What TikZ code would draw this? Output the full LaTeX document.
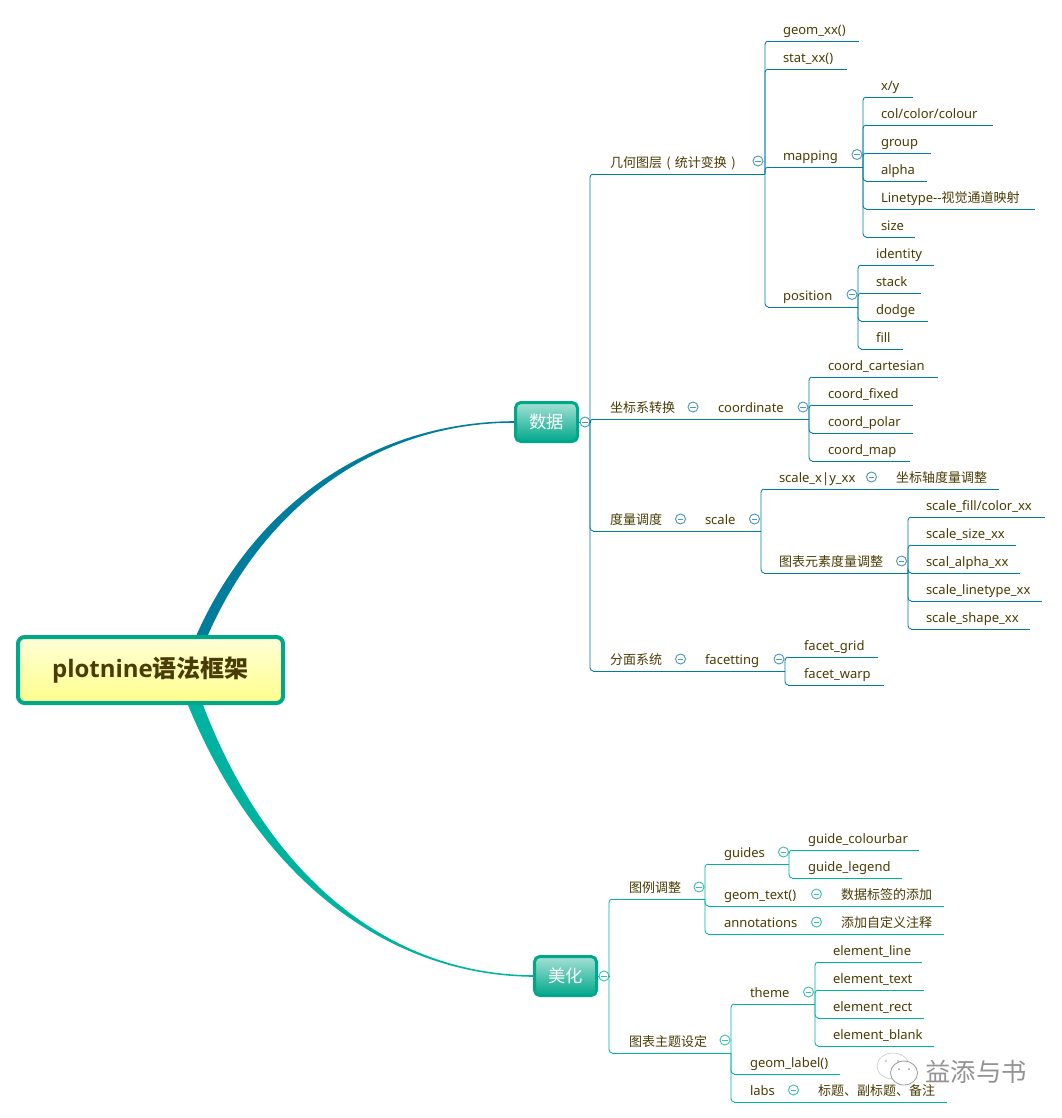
\documentclass[tikz,border=0pt]{standalone}
\usepackage{fontspec}
\setmainfont{Noto Sans}
\newfontfamily\cjk{Noto Sans CJK SC}
\newfontfamily\titlefont{Open Sans}
\newcommand{\zh}[1]{{\cjk #1}}
\newcommand{\wideparen}[1]{\makebox[9.75pt][c]{\cjk #1}}
\definecolor{tealblue}{HTML}{007D9C}
\definecolor{teallight}{HTML}{00B3A0}
\definecolor{markblue}{HTML}{4A9ABA}
\definecolor{marklight}{HTML}{3CBFB0}
\definecolor{boxgreen}{HTML}{00A88A}
\definecolor{inkbrown}{HTML}{4A3C05}
\colorlet{branch}{tealblue}
\colorlet{markc}{markblue}
\newlength{\topicw}
\newlength{\topicx}
\tikzset{
  topicbox/.style={anchor=south west,inner sep=0pt,outer sep=0pt,text=inkbrown,font=\fontsize{9.75pt}{12pt}\selectfont},
  branchline/.style={draw=branch,line width=0.65pt},
  spine/.style={branchline,rounded corners=2.5pt},
  collapse/.style={circle,draw=markc,fill=white,line width=0.7pt,minimum size=7.5pt,inner sep=0pt,
    path picture={\draw[markc,line width=0.6pt]
      ([xshift=1.6pt]path picture bounding box.west) -- ([xshift=-1.6pt]path picture bounding box.east);}},
  mainbox/.style={rectangle,rounded corners=4pt,draw=boxgreen,line width=2.25pt,
    top color=boxgreen!35!white,bottom color=boxgreen,text=white,
    minimum width=46.5pt,minimum height=29.25pt,inner sep=0pt,
    font=\fontsize{13pt}{15pt}\selectfont},
  rootbox/.style={rectangle,rounded corners=5pt,draw=boxgreen,line width=3pt,
    top color=yellow!15!white,bottom color=yellow!45!white,text=inkbrown,
    minimum width=198.75pt,minimum height=49.5pt,inner sep=0pt,
    font=\fontsize{18pt}{21pt}\selectfont\bfseries},
}
% one underlined topic: name, left end, text start, right end, underline y, text
\newcommand{\topic}[6]{%
  \pgfmathsetlength{\topicw}{(#4-#2)*0.75pt}%
  \pgfmathsetlength{\topicx}{(#3-#2)*0.75pt}%
  \node[topicbox] (#1) at (#2,#5)
    {\makebox[\topicw][l]{\hspace*{\topicx}\rule[-5.25pt]{0pt}{16pt}#6}};
  \draw[branchline] ([xshift=2.5pt]#1.south west) -- (#1.south east);
}
% a topic that continues the underline of the one before it
\newcommand{\chain}[2]{\draw[branchline] (#1.south east) -- ([xshift=2.5pt]#2.south west);}
\newcommand{\marker}[3]{\node[collapse] (#1) at (#2,#3) {};}
\begin{document}
\begin{tikzpicture}[x=0.75pt,y=-0.75pt]
\useasboundingbox (0,0) rectangle (1061,1118);
\fill[white] (0,0) rectangle (1061,1118);

% watermark in the lower right corner
\draw[gray!40,fill=white,line width=0.5pt] (893,1066) ellipse (16 and 13);
\fill[gray!50] (886,1061) circle (1.1) (898,1061) circle (1.1);
\draw[gray!80,fill=white,line width=0.6pt] (904,1073) ellipse (13.5 and 12);
\fill[gray!80] (899,1069) circle (1) (909,1069) circle (1);
\node[text=gray!85,inner sep=0pt,font=\cjk\fontsize{19pt}{21pt}\selectfont] (mark) at (976,1072) {益添与书};

% central topics
\node[rootbox] (root) at (150.5,670) {\raisebox{-2.5pt}{{\titlefont plotnine}\zh{语法框架}}};
\node[mainbox] (data) at (546.5,422) {\raisebox{-0.5pt}{\zh{数据}}};
\node[mainbox] (deco) at (565.5,976) {\zh{美化}};

% tapered main branches
\fill[tealblue] ([yshift=0.6pt]data.west) .. controls (380,421.5) and (258,497) .. ([xshift=34.5pt]root.north)
  -- ([xshift=43.1pt]root.north) .. controls (266,503) and (380,422.5) .. ([yshift=-0.6pt]data.west) -- cycle;
\fill[teallight] ([yshift=0.6pt]deco.west) .. controls (390,974.5) and (269,878) .. ([xshift=39.4pt]root.south)
  -- ([xshift=28.1pt]root.south) .. controls (261,882) and (390,975.5) .. ([yshift=-0.6pt]deco.west) -- cycle;

% ---- data branch ----
\marker{mdata}{585}{422}
\draw[branchline] (data.east) -- (mdata.west);
\coordinate (sdata) at (590,422);
\draw[branchline] (mdata.east) -- (sdata);

\topic{geomlayer}{590}{610}{765}{174}{\zh{几何图层}\wideparen{(}\zh{统计变换}\wideparen{)}}
\marker{mgeomlayer}{758}{161}
\topic{geomxx}{765}{783}{859}{41}{geom\_xx()}
\topic{statxx}{765}{783}{847}{69}{stat\_xx()}
\topic{mapping}{765}{783}{863}{167}{mapping}
\marker{mmapping}{857}{154.5}
\topic{position}{765}{783}{858}{307}{position}
\marker{mposition}{852}{294.5}

\topic{xy}{863}{881}{913}{97}{x/y}
\topic{colour}{863}{881}{993}{125}{col/color/colour}
\topic{group}{863}{881}{931}{153}{group}
\topic{alpha}{863}{881}{927}{181}{alpha}
\topic{linetype}{863}{881}{1035}{209}{Linetype-{}-\zh{视觉通道映射}}
\topic{size}{863}{881}{915}{237}{size}

\topic{identity}{858}{876}{934}{265}{identity}
\topic{stack}{858}{876}{921}{293}{stack}
\topic{dodge}{858}{876}{928}{321}{dodge}
\topic{fill}{858}{876}{903}{349}{fill}

\topic{coordsys}{590}{610}{700}{419}{\zh{坐标系转换}}
\marker{mcoordsys}{693}{407}
\topic{coordinate}{700}{718}{809}{419}{coordinate}
\chain{coordsys}{coordinate}
\marker{mcoordinate}{803}{407}
\topic{cartesian}{809}{828}{938}{377}{coord\_cartesian}
\topic{fixed}{809}{828}{913}{405}{coord\_fixed}
\topic{polar}{809}{828}{913}{433}{coord\_polar}
\topic{cmap}{809}{828}{910}{461}{coord\_map}

\topic{measure}{590}{610}{687}{531}{\zh{度量调度}}
\marker{mmeasure}{680.5}{519}
\topic{scale}{687}{705}{761}{531}{scale}
\chain{measure}{scale}
\marker{mscale}{754.5}{519}
\topic{scalexy}{761}{779}{878}{489}{scale\_x|y\_xx}
\marker{mscalexy}{871.5}{477}
\topic{axisadj}{878}{896}{999}{489}{\zh{坐标轴度量调整}}
\chain{scalexy}{axisadj}
\topic{elemadj}{761}{779}{908}{573}{\zh{图表元素度量调整}}
\marker{melemadj}{901.5}{561}
\topic{sfill}{908}{926}{1045}{517}{scale\_fill/color\_xx}
\topic{ssize}{908}{926}{1016}{545}{scale\_size\_xx}
\topic{salpha}{908}{926}{1020}{573}{scal\_alpha\_xx}
\topic{sline}{908}{926}{1042}{601}{scale\_linetype\_xx}
\topic{sshape}{908}{926}{1030}{629}{scale\_shape\_xx}

\topic{facetsys}{590}{610}{687}{671}{\zh{分面系统}}
\marker{mfacetsys}{680.5}{659}
\topic{facetting}{687}{705}{785}{671}{facetting}
\chain{facetsys}{facetting}
\marker{mfacetting}{779}{659}
\topic{fgrid}{785}{804}{878}{657}{facet\_grid}
\topic{fwarp}{785}{804}{884}{685}{facet\_warp}

\foreach \c in {geomlayer,coordsys,measure,facetsys}
  \draw[spine] (sdata) |- ([xshift=2.5pt]\c.south west);
\foreach \c in {geomxx,statxx,mapping,position}
  \draw[spine] (geomlayer.south east) |- ([xshift=2.5pt]\c.south west);
\foreach \c in {xy,colour,group,alpha,linetype,size}
  \draw[spine] (mapping.south east) |- ([xshift=2.5pt]\c.south west);
\foreach \c in {identity,stack,dodge,fill}
  \draw[spine] (position.south east) |- ([xshift=2.5pt]\c.south west);
\foreach \c in {cartesian,fixed,polar,cmap}
  \draw[spine] (coordinate.south east) |- ([xshift=2.5pt]\c.south west);
\foreach \c in {scalexy,elemadj}
  \draw[spine] (scale.south east) |- ([xshift=2.5pt]\c.south west);
\foreach \c in {sfill,ssize,salpha,sline,sshape}
  \draw[spine] (elemadj.south east) |- ([xshift=2.5pt]\c.south west);
\foreach \c in {fgrid,fwarp}
  \draw[spine] (facetting.south east) |- ([xshift=2.5pt]\c.south west);

% ---- styling branch ----
\colorlet{branch}{teallight}
\colorlet{markc}{marklight}
\marker{mdeco}{604}{976}
\draw[branchline] (deco.east) -- (mdeco.west);
\coordinate (sdeco) at (609,976);
\draw[branchline] (mdeco.east) -- (sdeco);

\topic{legendadj}{609}{629}{705}{899}{\zh{图例调整}}
\marker{mlegendadj}{699}{887}
\topic{guides}{705}{724}{789}{864}{guides}
\marker{mguides}{783.5}{852}
\topic{colourbar}{789}{808}{919}{850}{guide\_colourbar}
\topic{glegend}{789}{808}{902}{878}{guide\_legend}
\topic{geomtext}{705}{724}{823}{906}{geom\_text()}
\marker{mgeomtext}{816.5}{894}
\topic{datalabel}{823}{841}{944}{906}{\zh{数据标签的添加}}
\chain{geomtext}{datalabel}
\topic{annot}{705}{724}{823}{934}{annotations}
\marker{mannot}{816.5}{922}
\topic{custnote}{823}{841}{944}{934}{\zh{添加自定义注释}}
\chain{annot}{custnote}

\topic{themeset}{609}{629}{731}{1053}{\zh{图表主题设定}}
\marker{mthemeset}{725}{1040}
\topic{theme}{731}{750}{815}{1004}{theme}
\marker{mtheme}{808.5}{992}
\topic{eline}{815}{833}{922}{962}{element\_line}
\topic{etext}{815}{833}{924}{990}{element\_text}
\topic{erect}{815}{833}{924}{1018}{element\_rect}
\topic{eblank}{815}{833}{934}{1046}{element\_blank}
\topic{geomlabel}{731}{750}{840}{1074}{geom\_label()}
\topic{labs}{731}{750}{800}{1102}{labs}
\marker{mlabs}{793.5}{1090}
\topic{titles}{800}{818}{947}{1102}{\zh{标题、副标题、备注}}
\chain{labs}{titles}

\foreach \c in {legendadj,themeset}
  \draw[spine] (sdeco) |- ([xshift=2.5pt]\c.south west);
\foreach \c in {guides,geomtext,annot}
  \draw[spine] (legendadj.south east) |- ([xshift=2.5pt]\c.south west);
\foreach \c in {colourbar,glegend}
  \draw[spine] (guides.south east) |- ([xshift=2.5pt]\c.south west);
\foreach \c in {theme,geomlabel,labs}
  \draw[spine] (themeset.south east) |- ([xshift=2.5pt]\c.south west);
\foreach \c in {eline,etext,erect,eblank}
  \draw[spine] (theme.south east) |- ([xshift=2.5pt]\c.south west);
\end{tikzpicture}
\end{document}
